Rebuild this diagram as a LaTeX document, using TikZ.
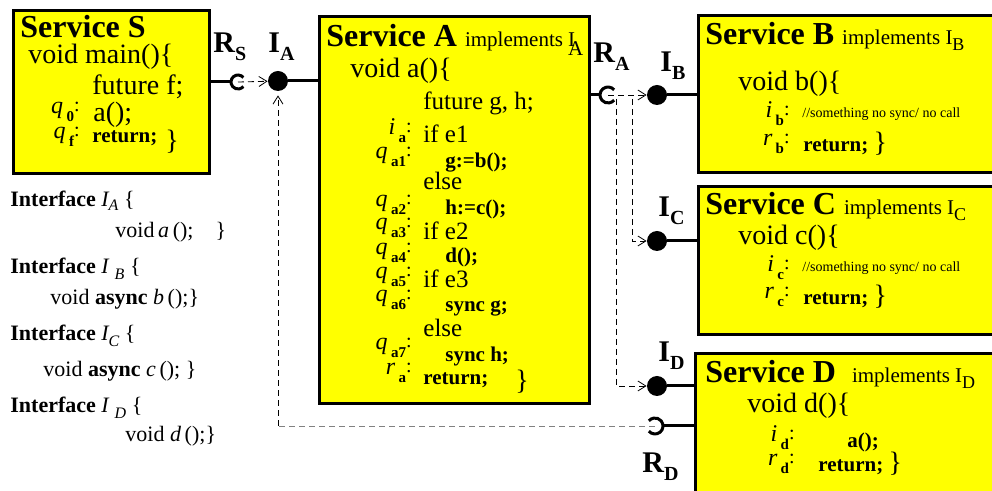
\documentclass[tikz,border=0pt]{standalone}
\usepackage{fontspec}
\setmainfont{Liberation Serif}
\usetikzlibrary{arrows.meta,positioning,calc}
\definecolor{svcyellow}{HTML}{FFFF00}
\definecolor{backgray}{HTML}{808080}
\newcommand{\fsz}[1]{\fontsize{#1}{#1}\selectfont}
\newcommand{\codeb}{\fsz{10.5}\bfseries}
% port label such as R_S
\newcommand{\portlab}[2]{{\fsz{15}\bfseries #1}{\fsz{10}\bfseries\raisebox{-4pt}{#2}}}
% state label such as q_a1 :
\newcommand{\stlab}[2]{\raisebox{4pt}{\fsz{12}\itshape #1}\,{\fsz{7.5}\bfseries #2}\raisebox{5pt}{\fsz{10}:}}

\begin{document}
\begin{tikzpicture}[x=0.5pt, y=-0.5pt, >={Straight Barb[length=4pt,width=5pt]},
  svcbox/.style={draw, line width=1.5pt, fill=svcyellow, anchor=north west, inner sep=0pt},
  ball/.style={circle, fill=black, inner sep=0pt, minimum size=10pt},
  wire/.style={line width=1.5pt},
  call/.style={->, thin, dash pattern=on 3pt off 2pt},
  txt/.style={anchor=base west, inner sep=0pt},
  lab/.style={anchor=base east, inner sep=0pt}]
\useasboundingbox (0,0) rectangle (992,491);
% services
\node[svcbox, minimum width=98pt, minimum height=81.5pt] (S) at (12,9) {};
\node[svcbox, minimum width=135pt, minimum height=193.5pt] (A) at (318,15) {};
\node[svcbox, minimum width=151.5pt, minimum height=78.5pt] (B) at (697,14) {};
\node[svcbox, minimum width=151.5pt, minimum height=74pt] (C) at (697,185) {};
\node[svcbox, minimum width=153pt, minimum height=74pt] (D) at (694,352) {};

% ports
\coordinate (RS) at (238,82);
\coordinate (RA) at (608,95);
\coordinate (RD) at (655,426);
\node[ball] (IA) at (278,81) {};
\node[ball] (IB) at (657,95) {};
\node[ball] (IC) at (657,241) {};
\node[ball] (ID) at (657,386) {};
\draw[wire] (RS -| S.east) -- ([xshift=-3.5pt]RS);
\draw[wire] ([shift={(40:3.5pt)}]RS) arc[start angle=40, end angle=320, radius=3.5pt];
\draw[wire] (RA -| A.east) -- ([xshift=-4pt]RA);
\draw[wire] ([shift={(40:4pt)}]RA) arc[start angle=40, end angle=320, radius=4pt];
\draw[wire] ([xshift=4pt]RD) -- (RD -| D.west);
\draw[wire] ([shift={(-140:4pt)}]RD) arc[start angle=-140, end angle=140, radius=4pt];
\draw[wire] (IA) -- (IA -| A.west);
\draw[wire] (IB) -- (IB -| B.west);
\draw[wire] (IC) -- (IC -| C.west);
\draw[wire] (ID) -- (ID -| D.west);

% calls
\draw[call] (RS) -- (IA);
\draw[call] (RA) -- (IB);
\draw[call] ([xshift=12pt,yshift=-2pt]RA) |- (IC);
\draw[call] ([xshift=4pt,yshift=-2pt]RA) |- (ID);
\coordinate (back) at (RD -| IA);
\draw[thin, backgray, dash pattern=on 3pt off 2pt] (RD) -- (back);
\draw[call, shorten >=2pt] (back) -- (IA);

\node[txt] (lRS) at (213,53) {\portlab{R}{S}};
\node[txt] (lIA) at (268,53) {\portlab{I}{A}};
\node[txt] (lRA) at (593,63) {\portlab{R}{A}};
\node[txt] (lIB) at (660,72) {\portlab{I}{B}};
\node[txt] (lIC) at (658,217) {\portlab{I}{C}};
\node[txt] (lID) at (658,362) {\portlab{I}{D}};
\node[txt] (lRD) at (642,473) {\portlab{R}{D}};

% service S
\node[txt] (Sname) at (20,38) {\fsz{16}\bfseries Service S};
\node[txt] (Smain) at (28,64) {\fsz{14}void main()\{};
\node[txt] (Sfut) at (92,95) {\fsz{14}future f;};
\node[lab] (Sq0) at (80,122) {\stlab{q}{0}};
\node[txt] (Scall) at (93,122) {\fsz{14}a();};
\node[lab] (Sqf) at (80,147) {\stlab{q}{f}};
\node[txt] (Sret) at (92,143) {\codeb return;};
\node[txt] (Send) at (165,150) {\fsz{14}\}};

% service A
\node[txt] (Aname) at (326,47) {\fsz{16}\bfseries Service A \fsz{10.5}\mdseries implements \makebox[0pt][l]{I}\raisebox{-4.5pt}{A}};
\node[txt] (Avoid) at (350,78) {\fsz{14}void a()\{};
\node[txt] (Afut) at (423,110) {\fsz{12.5}future g, h;};
\foreach \y/\x/\c [count=\n] in {143/423/{\fsz{12.5}if e1}, 168/445/{\codeb g:=b();},
    190/423/{\fsz{12.5}else}, 215/445/{\codeb h:=c();}, 240/423/{\fsz{12.5}if e2},
    263/445/{\codeb d();}, 288/423/{\fsz{12.5}if e3}, 312/445/{\codeb sync g;},
    337/423/{\fsz{12.5}else}, 362/445/{\codeb sync h;}, 385/423/{\codeb return;}}
  \node[txt] (Acode\n) at (\x,\y) {\c};
\foreach \y/\v/\s [count=\n] in {143/i/a, 167/q/a1, 215/q/a2, 238/q/a3, 263/q/a4,
    287/q/a5, 310/q/a6, 358/q/a7, 383/r/a}
  \node[lab] (Alab\n) at (412,\y) {\stlab{\v}{\s}};
\node[txt] (Aend) at (515,390) {\fsz{14}\}};

% service B
\node[txt] (Bname) at (705,45) {\fsz{16}\bfseries Service B \fsz{10.5}\mdseries implements I\raisebox{-3pt}{\fsz{9}B}};
\node[txt] (Bvoid) at (738,91) {\fsz{14}void b()\{};
\node[lab] (Bi) at (790,126) {\stlab{i}{b}};
\node[txt] (Bnote) at (802,118) {\fsz{7}//something no sync/ no call};
\node[lab] (Br) at (790,154) {\stlab{r}{b}};
\node[txt] (Bret) at (803,152) {\codeb return;~\fsz{14}\mdseries\}};

% service C
\node[txt] (Cname) at (705,215) {\fsz{16}\bfseries Service C \fsz{10.5}\mdseries implements I\raisebox{-3pt}{\fsz{9}C}};
\node[txt] (Cvoid) at (738,245) {\fsz{14}void c()\{};
\node[lab] (Ci) at (790,280) {\stlab{i}{c}};
\node[txt] (Cnote) at (802,272) {\fsz{7}//something no sync/ no call};
\node[lab] (Cr) at (790,307) {\stlab{r}{c}};
\node[txt] (Cret) at (803,305) {\codeb return;~\fsz{14}\mdseries\}};

% service D
\node[txt] (Dname) at (705,383) {\fsz{16}\bfseries Service D\hspace{8pt}\fsz{10.5}\mdseries implements I\raisebox{-3pt}{\fsz{9}D}};
\node[txt] (Dvoid) at (747,413) {\fsz{14}void d()\{};
\node[lab] (Di) at (795,450) {\stlab{i}{d}};
\node[txt] (Dcall) at (847,448) {\codeb a();};
\node[lab] (Dr) at (795,474) {\stlab{r}{d}};
\node[txt] (Dret) at (818,472) {\codeb return;~\fsz{14}\mdseries\}};

% interfaces
\node[txt] (ifA) at (10,207) {\fsz{11}\bfseries Interface \mdseries\itshape I\raisebox{-2pt}{\fsz{8}A} \upshape\{};
\node[txt] (ifAm) at (115,238) {\fsz{11}void\,\textit{a}\,();\quad\}};
\node[txt] (ifB) at (10,274) {\fsz{11}\bfseries Interface \mdseries\itshape I\hspace{3pt}\raisebox{-3pt}{\fsz{8}B} \upshape\{};
\node[txt] (ifBm) at (50,305) {\fsz{11}void \textbf{async} \textit{b}\,();\}};
\node[txt] (ifC) at (10,341) {\fsz{11}\bfseries Interface \mdseries\itshape I\raisebox{-3pt}{\fsz{8}C} \upshape\{};
\node[txt] (ifCm) at (43,377) {\fsz{11}void \textbf{async} \textit{c}\,(); \}};
\node[txt] (ifD) at (10,413) {\fsz{11}\bfseries Interface \mdseries\itshape I\hspace{3pt}\raisebox{-3pt}{\fsz{8}D} \upshape\{};
\node[txt] (ifDm) at (125,442) {\fsz{11}void \textit{d}\,();\}};
\end{tikzpicture}
\end{document}
